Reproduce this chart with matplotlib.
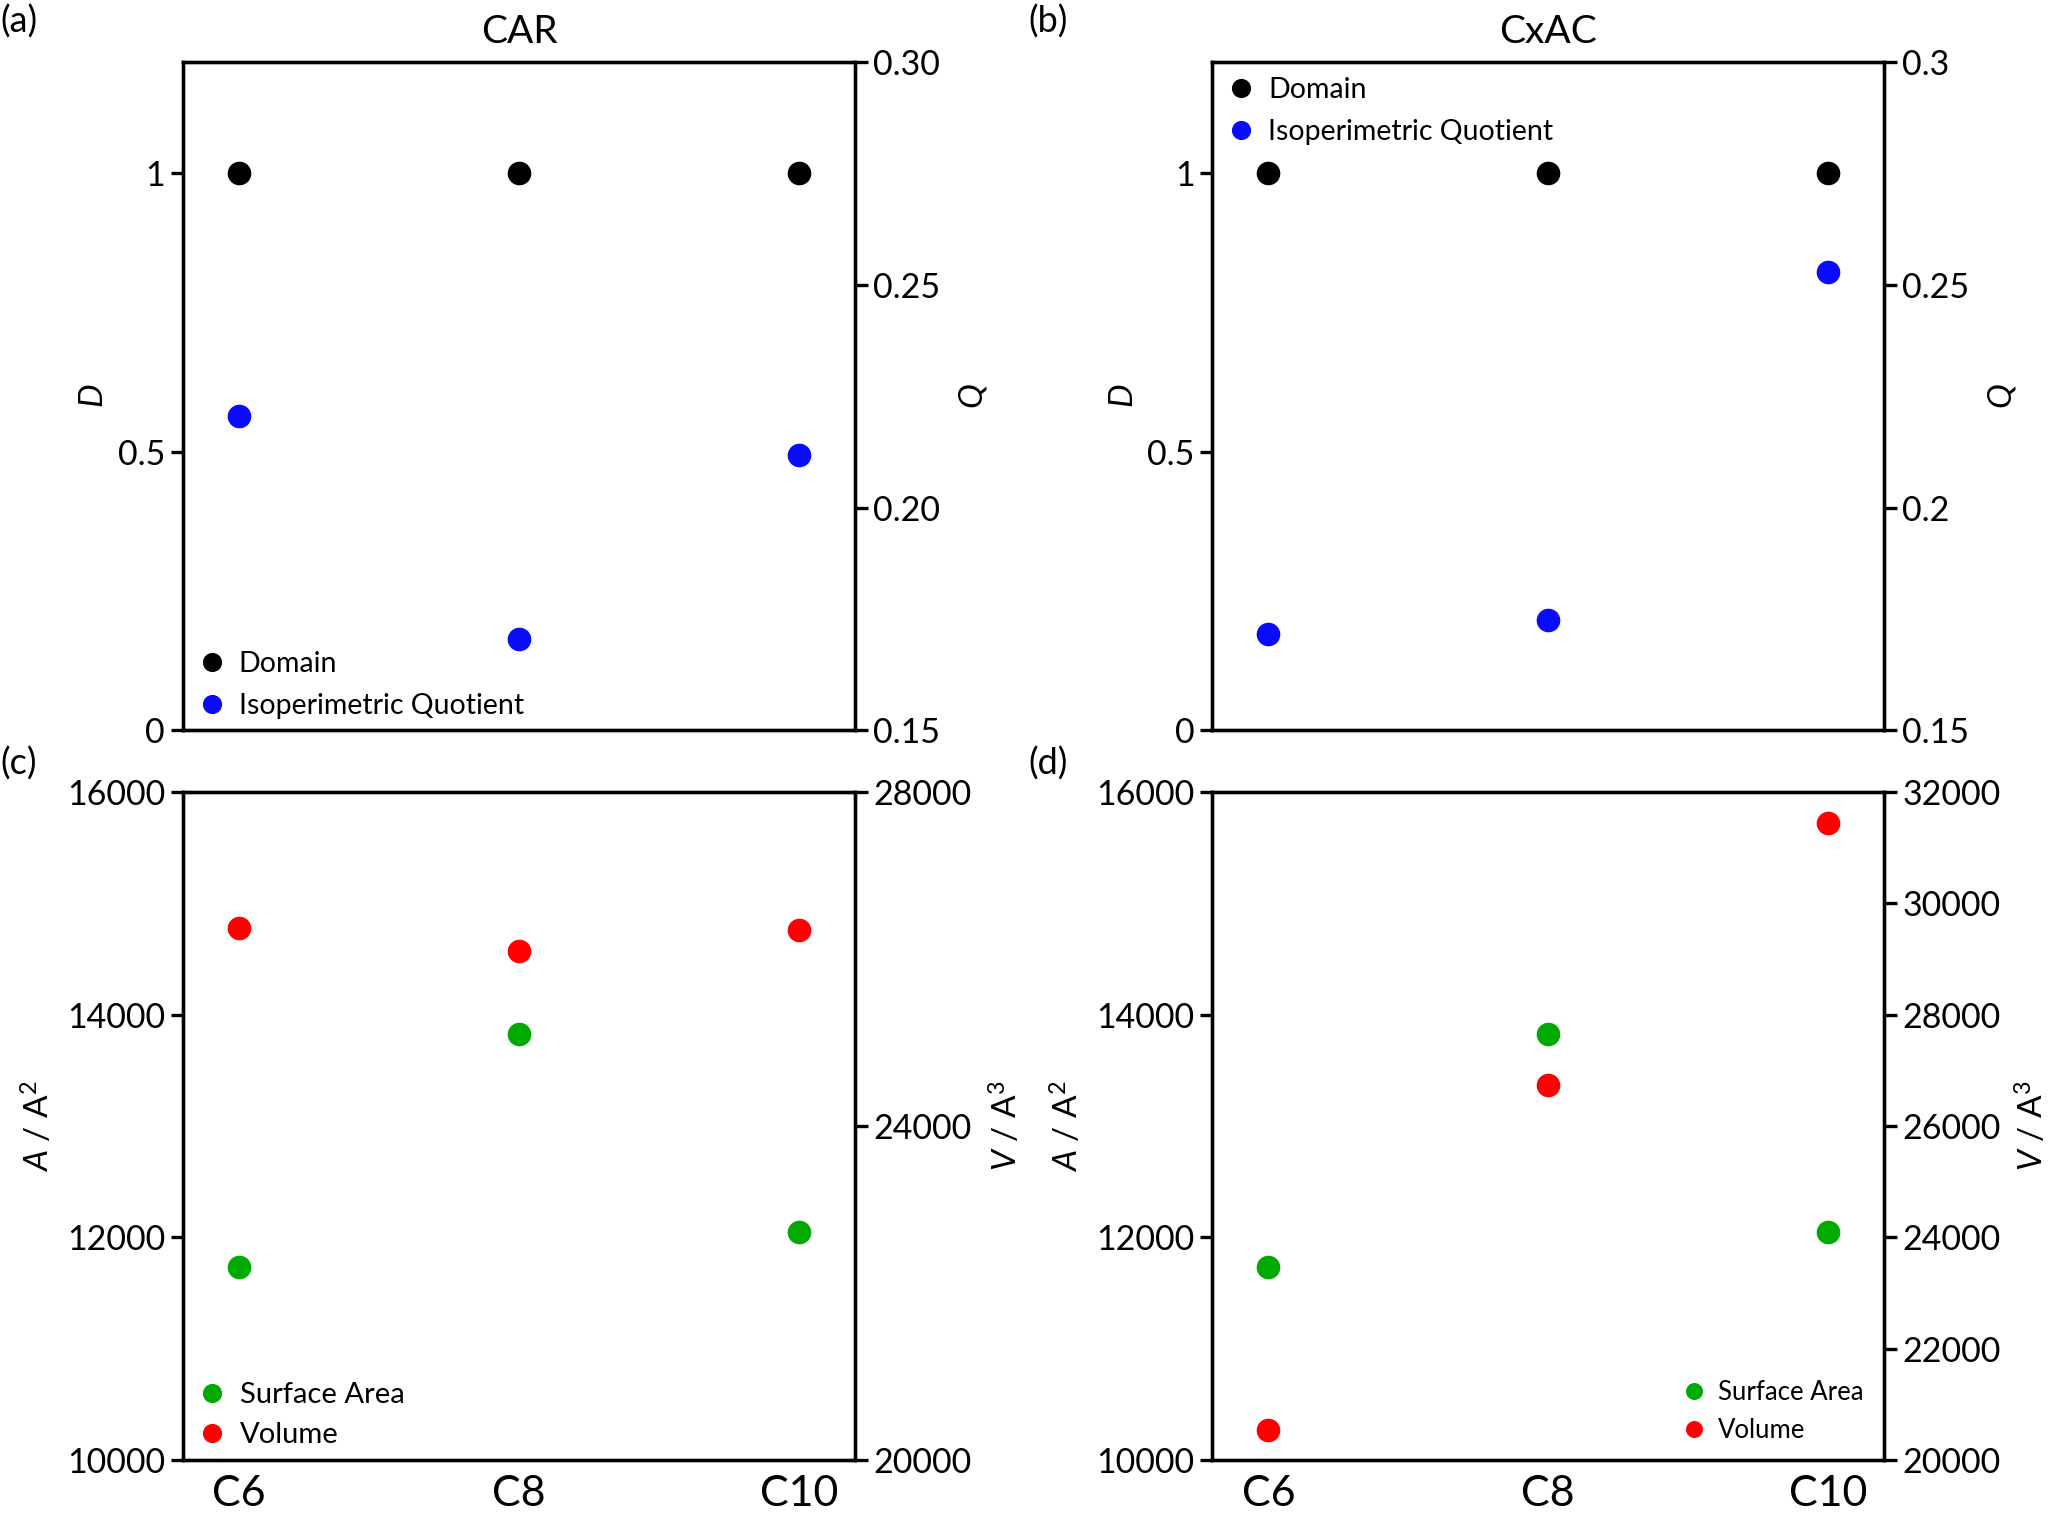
import matplotlib
matplotlib.use("Agg")
import matplotlib.pyplot as plt
from matplotlib.lines import Line2D

plt.rcParams['font.family'] = ['Lato', 'DejaVu Sans']
plt.rcParams['mathtext.fontset'] = 'custom'
plt.rcParams['mathtext.rm'] = 'Lato'
plt.rcParams['mathtext.it'] = 'Lato:italic'

categories = ['C6', 'C8', 'C10']
car_domain = [1, 1, 1]
car_q = [0.2205, 0.1705, 0.2118]
cxac_domain = [1, 1, 1]
cxac_q = [0.1715, 0.1748, 0.2528]
car_area = [11736, 13823, 12048]
car_volume = [26375, 26095, 26350]
cxac_area = [11733, 13823, 12046]
cxac_volume = [20530, 26743, 31444]

q_ticks_car = [0.15, 0.20, 0.25, 0.30]
q_labels_car = ['0.15', '0.20', '0.25', '0.30']
q_ticks_cxac = [0.15, 0.20, 0.25, 0.30]
q_labels_cxac = ['0.15', '0.2', '0.25', '0.3']
d_ticks = [0, 0.5, 1]
d_labels = ['0', '0.5', '1']
a_ticks = [10000, 12000, 14000, 16000]
v_ticks_car = [20000, 24000, 28000]
v_ticks_cxac = [20000, 22000, 24000, 26000, 28000, 30000, 32000]

BLACK = '#000000'
BLUE = '#0a0aff'
GREEN = '#00aa00'
RED = '#ff0000'

fig = plt.figure(figsize=(20.48, 15.15), dpi=100)

W = 0.328
H = 0.441
lefts = [0.0894, 0.592]
bottoms = [0.518, 0.0363]

MS = 16
LW = 2.4
TICK_FS = 24.5
LAB_FS = 24

x = list(range(len(categories)))


def style(ax, bottom_labels):
    for s in ax.spines.values():
        s.set_linewidth(LW)
    ax.set_xlim(-0.2, 2.2)
    ax.tick_params(axis='y', which='both', direction='out', length=9, width=LW,
                   labelsize=TICK_FS, pad=4)
    if bottom_labels:
        ax.set_xticks(x)
        ax.set_xticklabels(categories)
        ax.tick_params(axis='x', length=0, labelsize=31, pad=11)
    else:
        ax.set_xticks([])


def top_panel(left, d_vals, q_vals, title, qt, ql, legend_loc, legend_anchor):
    ax = fig.add_axes([left, bottoms[0], W, H])
    ax2 = ax.twinx()
    ax.plot(x, d_vals, 'o', color=BLACK, ms=MS, ls='none', label='Domain')
    ax2.plot(x, q_vals, 'o', color=BLUE, ms=MS, ls='none', label='Isoperimetric Quotient')
    ax.set_ylim(0, 1.2)
    ax.set_yticks(d_ticks)
    ax.set_yticklabels(d_labels)
    ax2.set_ylim(0.15, 0.30)
    ax2.set_yticks(qt)
    ax2.set_yticklabels(ql)
    style(ax, False)
    style(ax2, False)
    ax.set_ylabel(r'$\mathit{D}$', fontsize=LAB_FS, labelpad=6)
    ax2.set_ylabel(r'$\mathit{Q}$', fontsize=LAB_FS, labelpad=12)
    ax.set_title(title, fontsize=28, pad=14)
    handles = [Line2D([], [], marker='o', ls='none', color=BLACK, ms=MS * 0.8),
               Line2D([], [], marker='o', ls='none', color=BLUE, ms=MS * 0.8)]
    ax2.legend(handles, ['Domain', 'Isoperimetric Quotient'], loc=legend_loc,
               bbox_to_anchor=legend_anchor, frameon=False, fontsize=20.5,
               handletextpad=0.35, labelspacing=0.55, borderaxespad=0.0,
               handlelength=1.2)
    return ax, ax2


def bottom_panel(left, a_vals, v_vals, vlim, vt, legend_loc, legend_anchor, lfs, mscale, vpad):
    ax = fig.add_axes([left, bottoms[1], W, H])
    ax2 = ax.twinx()
    ax.plot(x, a_vals, 'o', color=GREEN, ms=MS, ls='none')
    ax2.plot(x, v_vals, 'o', color=RED, ms=MS, ls='none')
    ax.set_ylim(10000, 16000)
    ax.set_yticks(a_ticks)
    ax.set_yticklabels([str(t) for t in a_ticks])
    ax2.set_ylim(*vlim)
    ax2.set_yticks(vt)
    ax2.set_yticklabels([str(t) for t in vt])
    style(ax, True)
    style(ax2, True)
    ax.set_ylabel(r'$\mathit{A}\ /\ \mathrm{A}^{2}$', fontsize=LAB_FS, labelpad=8)
    ax2.set_ylabel(r'$\mathit{V}\ /\ \mathrm{A}^{3}$', fontsize=LAB_FS, labelpad=vpad)
    handles = [Line2D([], [], marker='o', ls='none', color=GREEN, ms=MS * mscale),
               Line2D([], [], marker='o', ls='none', color=RED, ms=MS * mscale)]
    ax2.legend(handles, ['Surface Area', 'Volume'], loc=legend_loc,
               bbox_to_anchor=legend_anchor, frameon=False, fontsize=lfs,
               handletextpad=0.35, labelspacing=0.5, borderaxespad=0.0,
               handlelength=1.2)
    return ax, ax2


top_panel(lefts[0], car_domain, car_q, 'CAR', q_ticks_car, q_labels_car,
          'lower left', (0.0, 0.0))
top_panel(lefts[1], cxac_domain, cxac_q, 'CxAC', q_ticks_cxac, q_labels_cxac,
          'upper left', (0.0, 0.995))
bottom_panel(lefts[0], car_area, car_volume, (20000, 28000), v_ticks_car,
             'lower left', (0.0, 0.0), 21, 0.8, 13)
bottom_panel(lefts[1], cxac_area, cxac_volume, (20000, 32000), v_ticks_cxac,
             'lower right', (0.985, 0.01), 18.5, 0.7, 10)

fig.text(0.0, 0.997, '(a)', fontsize=26, ha='left', va='top')
fig.text(0.502, 0.997, '(b)', fontsize=26, ha='left', va='top')
fig.text(0.0, 0.507, '(c)', fontsize=26, ha='left', va='top')
fig.text(0.502, 0.507, '(d)', fontsize=26, ha='left', va='top')

fig.savefig('out.png', dpi=100)
